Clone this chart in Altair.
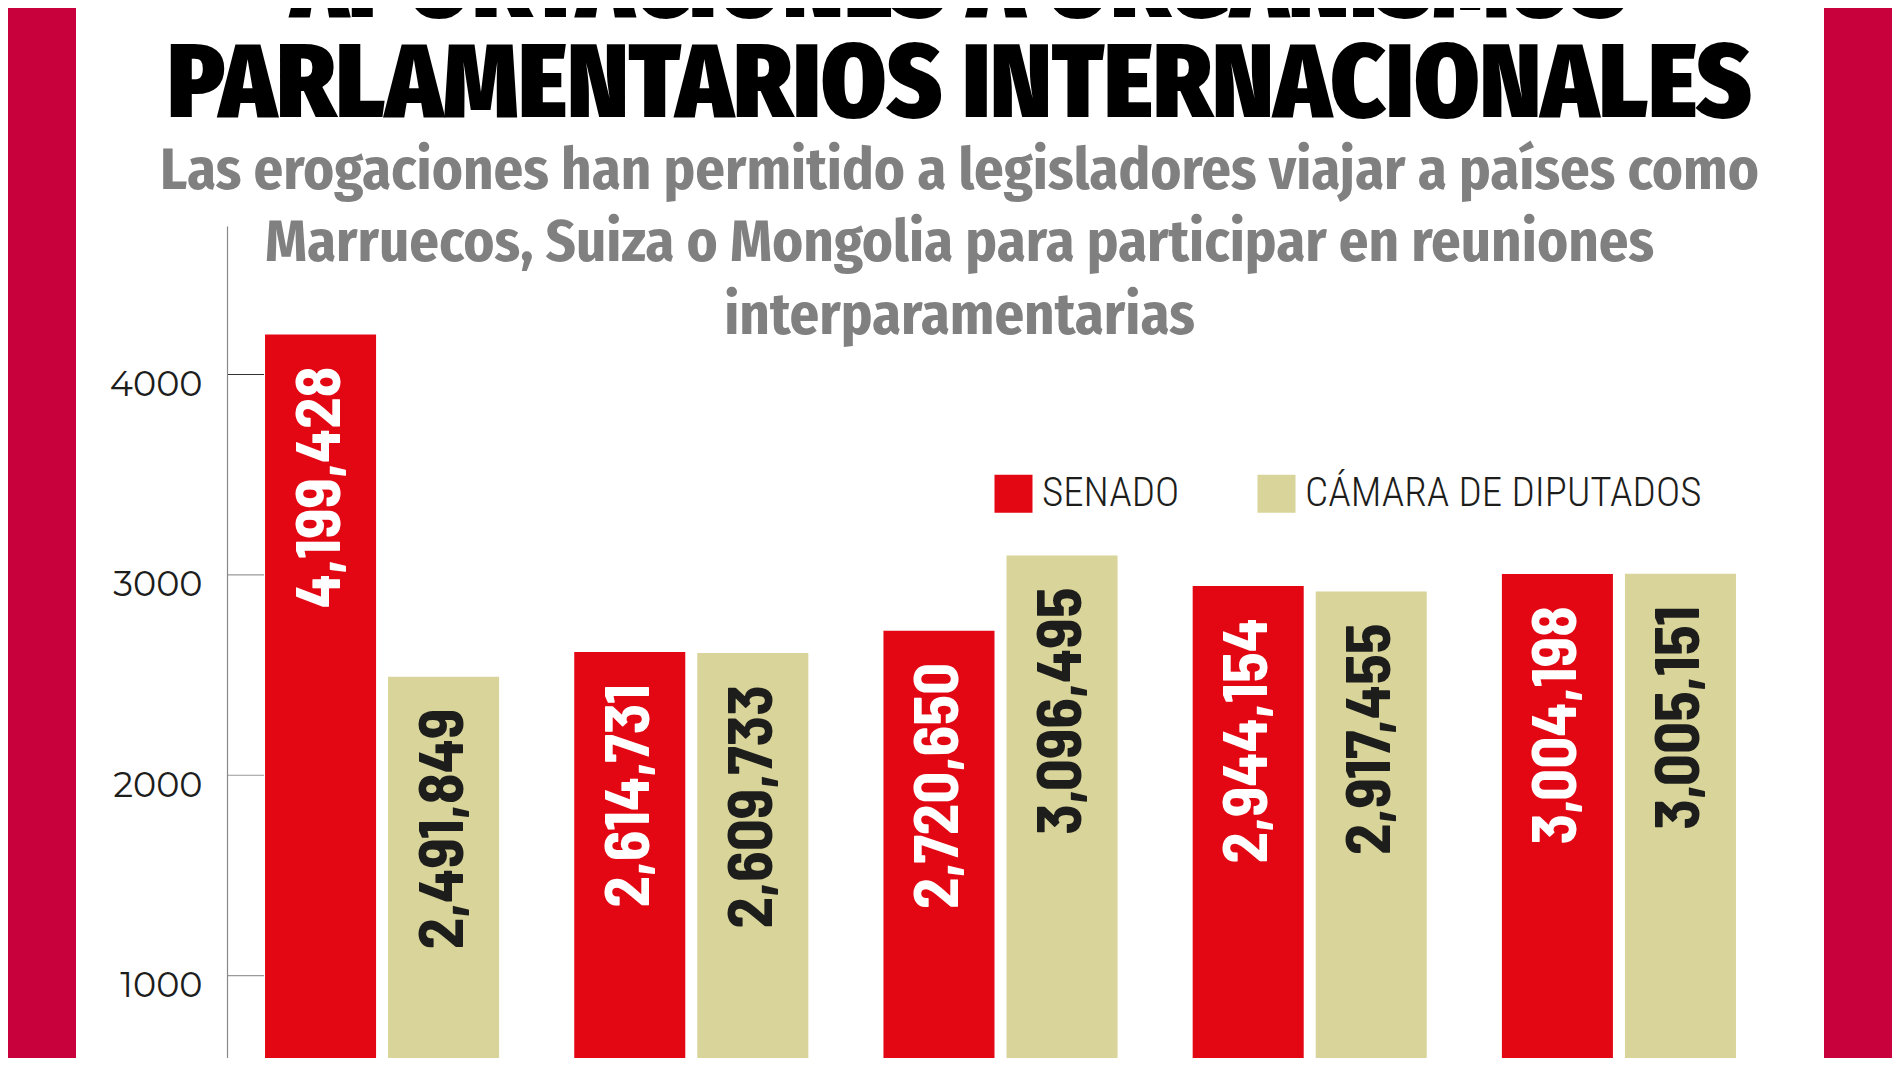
import altair as alt
import pandas as pd

# ---------------- data ----------------
grupos = ["G1", "G2", "G3", "G4", "G5"]
series = ["SENADO", "CÁMARA DE DIPUTADOS"]
senado = [4199428, 2614731, 2720650, 2944154, 3004198]
camara = [2491849, 2609733, 3096495, 2917455, 3005151]
ticks = [1000, 2000, 3000, 4000]
titulo = ["APORTACIONES A ORGANISMOS", "PARLAMENTARIOS INTERNACIONALES"]
subtitulo = [
    "Las erogaciones han permitido a legisladores viajar a países como",
    "Marruecos, Suiza o Mongolia para participar en reuniones",
    "interparamentarias",
]

rows = []
for g, s, c in zip(grupos, senado, camara):
    rows.append({"grupo": g, "serie": series[0], "monto": s})
    rows.append({"grupo": g, "serie": series[1], "monto": c})
df = pd.DataFrame(rows)
tick_df = pd.DataFrame({"t": ticks})

# ---------------- style ----------------
RED = "#E30613"
KHAKI = "#D8D49A"
CRIMSON = "#C8003C"
TITLE_FONT = "Fira Sans Condensed, Barlow Semi Condensed, Roboto Condensed, sans-serif"
SUB_FONT = "Fira Sans Condensed, Roboto Condensed, sans-serif"
LABEL_FONT = "Barlow Semi Condensed, Barlow Condensed, Roboto Condensed, sans-serif"
LEGEND_FONT = "Roboto Condensed, sans-serif"
W, H = 1547, 832

yscale = alt.Scale(domain=[589, 4741], nice=False, zero=False)
yaxis = alt.Axis(values=ticks, format="d", title=None, grid=False, ticks=False, zindex=1,
                 labelFont="Montserrat", labelFontSize=35, labelColor="#1d1d1b",
                 labelPadding=25, labelOffset=10, domainColor="#888888",
                 domainWidth=1.2, labelFlush=False)
x = alt.X("grupo:N", sort=grupos, axis=None,
          scale=alt.Scale(paddingInner=0.243, paddingOuter=0.123))
xo = alt.XOffset("serie:N", sort=series, scale=alt.Scale(paddingInner=0.0976))

panel = alt.Chart(alt.Data(values=[{"a": 1}])).mark_rect(color="white").encode(
    x=alt.value(-151), x2=alt.value(1597), y=alt.value(-218), y2=alt.value(H)
)

tick_rules = alt.Chart(tick_df).mark_rule(strokeWidth=1.2).encode(
    y=alt.Y("t:Q", scale=yscale, axis=yaxis),
    x=alt.value(0), x2=alt.value(37),
    color=alt.condition(alt.datum.t == 4000, alt.value("#333333"), alt.value("#999999")),
)

base = alt.Chart(df).transform_calculate(miles="datum.monto / 1000")

bars = base.mark_bar(clip=True).encode(
    x=x, xOffset=xo,
    y=alt.Y("miles:Q", scale=yscale, axis=yaxis),
    y2=alt.datum(0),
    color=alt.Color("serie:N", sort=series,
                    scale=alt.Scale(domain=series, range=[RED, KHAKI]),
                    legend=alt.Legend(orient="none", legendX=766, legendY=247,
                                      direction="horizontal", title=None,
                                      symbolType="square", symbolSize=1444,
                                      symbolStrokeWidth=0, symbolOpacity=1,
                                      labelFont=LEGEND_FONT, labelFontSize=41,
                                      labelFontWeight=300,
                                      labelColor="#1d1d1b", labelOffset=8,
                                      labelLimit=600, columnPadding=76,
                                      padding=0)),
)

labels = base.mark_text(angle=270, align="right", baseline="middle", dx=-32,
                        font=LABEL_FONT, fontSize=63, fontWeight=700).encode(
    x=x, xOffset=xo,
    y=alt.Y("miles:Q", scale=yscale, axis=yaxis),
    text=alt.Text("monto:Q", format=",d"),
    color=alt.condition(alt.datum.serie == "SENADO", alt.value("white"), alt.value("#1d1d1b")),
)

chart = alt.layer(panel, tick_rules, bars, labels).properties(
    width=W, height=H,
    background=CRIMSON,
    padding={"left": 219, "top": 218, "right": 118, "bottom": 0},
    autosize=alt.AutoSizeParams(type="none"),
    title=alt.Title(
        text=titulo, subtitle=subtitulo,
        font=TITLE_FONT, fontSize=104, fontWeight=900, color="black", lineHeight=100,
        subtitleFont=SUB_FONT, subtitleFontSize=58.5, subtitleFontWeight=700,
        subtitleColor="#808080", subtitleLineHeight=72.5, subtitlePadding=4,
        anchor="middle", frame="group", dx=-41, offset=-338,
    ),
).configure_view(strokeWidth=0)

chart.save("out.html", embed_options={"renderer": "svg", "actions": False})
